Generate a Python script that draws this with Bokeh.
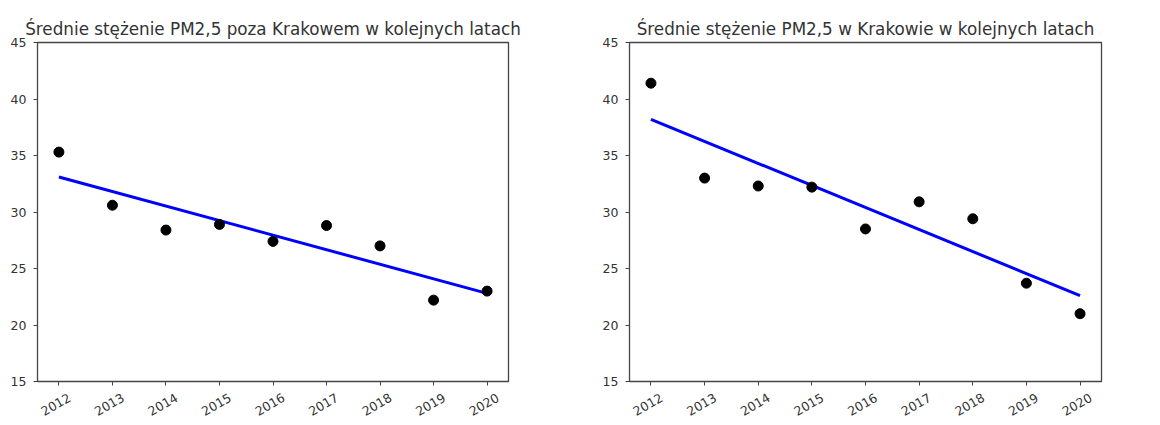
import math
from bokeh.plotting import figure
from bokeh.layouts import row
from bokeh.models import FixedTicker, Range1d, LinearAxis
from bokeh.embed import file_html
from bokeh.resources import INLINE

years = [2012, 2013, 2014, 2015, 2016, 2017, 2018, 2019, 2020]
pm_poza = [35.3, 30.6, 28.4, 28.9, 27.4, 28.8, 27.0, 22.2, 23.0]
pm_krakow = [41.4, 33.0, 32.3, 32.2, 28.5, 30.9, 29.4, 23.7, 21.0]
trend_years = [2012, 2020]
trend_poza = [33.1, 22.8]
trend_krakow = [38.2, 22.6]
y_ticks = [15, 20, 25, 30, 35, 40, 45]
titles = ["Średnie stężenie PM2,5 poza Krakowem w kolejnych latach",
          "Średnie stężenie PM2,5 w Krakowie w kolejnych latach"]

FONT = "DejaVu Sans"
TXT = "#333333"
X0, X1 = 2011.6, 2020.4
SHIFT = 0.2  # label axis shift so rotated labels sit centred under ticks


def make(title, vals, trend, width, bl, br):
    p = figure(width=width, height=425, output_backend="svg", toolbar_location=None,
               x_range=Range1d(X0, X1), y_range=Range1d(15, 45),
               min_border_left=bl, min_border_right=br, min_border_top=42,
               min_border_bottom=44)
    p.title.text = title
    p.title.align = "center"
    p.title.text_font = FONT
    p.title.text_font_size = "16.8px"
    p.title.text_font_style = "normal"
    p.title.text_color = TXT
    p.title.standoff = 8
    p.xgrid.visible = False
    p.ygrid.visible = False
    p.outline_line_color = "#444444"
    p.outline_line_width = 1.3
    p.outline_line_alpha = 1
    for ax in (p.xaxis[0], p.yaxis[0]):
        ax.axis_line_color = None
        ax.major_tick_in = 0
        ax.major_tick_out = 4
        ax.major_tick_line_color = "#444444"
        ax.minor_tick_line_color = None
        ax.major_label_text_font = FONT
        ax.major_label_text_font_size = "12.5px"
        ax.major_label_text_color = TXT
        ax.major_label_standoff = 7
    p.xaxis.ticker = FixedTicker(ticks=years)
    p.yaxis.ticker = FixedTicker(ticks=y_ticks)
    p.xaxis.major_label_text_alpha = 0
    p.xaxis.major_label_text_font_size = "0px"
    p.xaxis.major_label_standoff = 0

    p.extra_x_ranges = {"lbl": Range1d(X0 - SHIFT, X1 - SHIFT)}
    lab_axis = LinearAxis(x_range_name="lbl", ticker=FixedTicker(ticks=years),
                          axis_line_color=None, major_tick_line_color=None,
                          minor_tick_line_color=None, major_tick_in=0, major_tick_out=0,
                          major_label_orientation=math.pi / 6,
                          major_label_standoff=11,
                          major_label_text_font=FONT,
                          major_label_text_font_size="12.5px",
                          major_label_text_color=TXT)
    p.add_layout(lab_axis, "below")

    p.line(trend_years, trend, line_color="#0000ff", line_width=3)
    p.scatter(years, vals, size=10, fill_color="black", line_color="black")
    return p


p1 = make(titles[0], pm_poza, trend_poza, 580, 37, 72)
p2 = make(titles[1], pm_krakow, trend_krakow, 578, 49, 57)
layout = row(p1, p2)
open("out.html", "w").write(file_html(layout, INLINE))
